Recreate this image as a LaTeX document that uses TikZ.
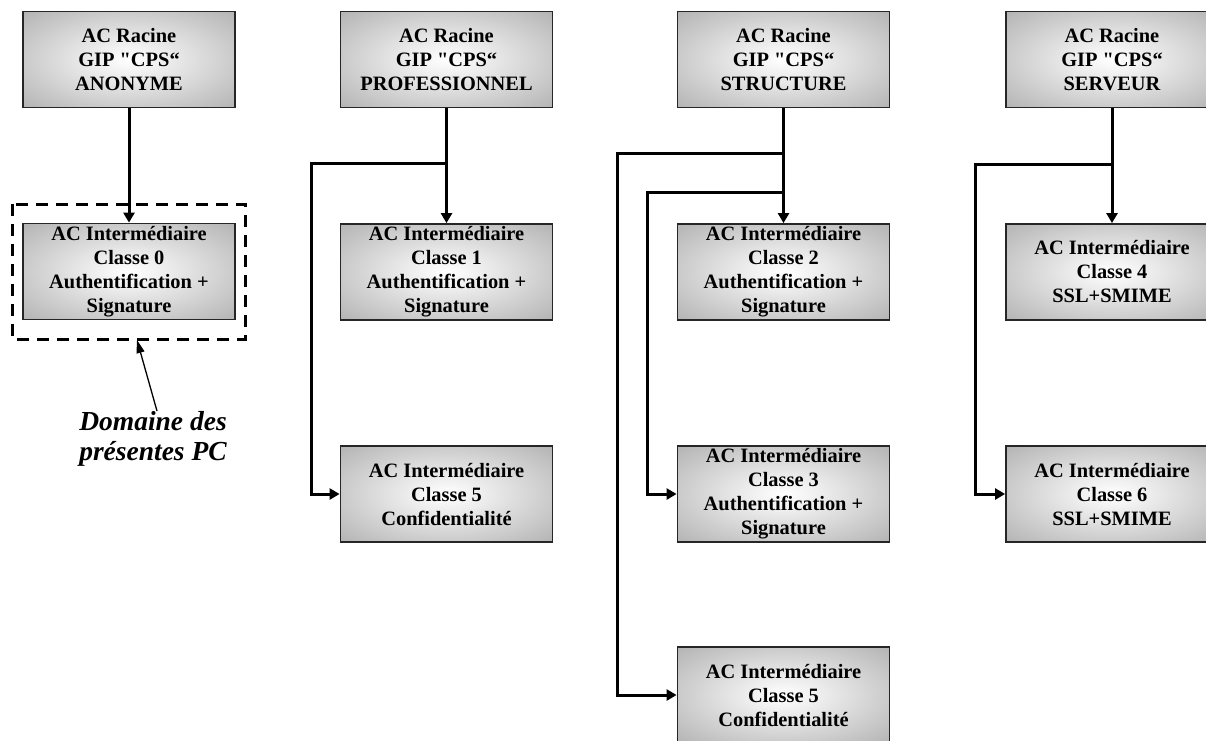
\documentclass[tikz,border=0pt]{standalone}
\usepackage{fontspec}
\setmainfont{Liberation Serif}
\usetikzlibrary{arrows.meta}

\pgfdeclareradialshading{boxglow}{\pgfpoint{0bp}{0bp}}{color(0bp)=(white); color(10bp)=(white!92!black); color(50bp)=(black!42); color(71bp)=(black!58)}

\tikzset{
  acbox/.style={draw=black!85, line width=1.8pt, shading=boxglow,
    minimum width=212pt, minimum height=96pt, inner sep=0pt, align=center,
    font=\bfseries\fontsize{20.4}{24}\selectfont},
  conn/.style={line width=3pt, -{Triangle[length=10pt,width=11pt]}},
}

\begin{document}
\begin{tikzpicture}[x=1pt, y=-1pt]
    \useasboundingbox (0, 0) rectangle (1206, 740);

    \node [acbox] (r0) at (129, 59.5) {AC Racine\\GIP \textquotedbl CPS“\\ANONYME};
    \node [acbox] (r1) at (446.5, 59.5) {AC Racine\\GIP \textquotedbl CPS“\\PROFESSIONNEL};
    \node [acbox] (r2) at (783.5, 59.5) {AC Racine\\GIP \textquotedbl CPS“\\STRUCTURE};
    \node [acbox] (r3) at (1112, 59.5) {AC Racine\\GIP \textquotedbl CPS“\\SERVEUR};

    \node [acbox] (c0) at (129, 271.5) {AC Intermédiaire\\Classe 0\\Authentification +\\Signature};
    \node [acbox] (c1) at (446.5, 272) {AC Intermédiaire\\Classe 1\\Authentification +\\Signature};
    \node [acbox] (c5p) at (446.5, 494) {AC Intermédiaire\\Classe 5\\Confidentialité};
    \node [acbox] (c2) at (783.5, 272) {AC Intermédiaire\\Classe 2\\Authentification +\\Signature};
    \node [acbox] (c3) at (783.5, 494) {AC Intermédiaire\\Classe 3\\Authentification +\\Signature};
    \node [acbox] (c5s) at (783.5, 695) {AC Intermédiaire\\Classe 5\\Confidentialité};
    \node [acbox] (c4) at (1112, 272) {AC Intermédiaire\\Classe 4\\SSL+SMIME};
    \node [acbox] (c6) at (1112, 494) {AC Intermédiaire\\Classe 6\\SSL+SMIME};

    \coordinate (b1) at (311, 163);
    \coordinate (b2a) at (617, 153);
    \coordinate (b2b) at (647, 192);
    \coordinate (b3) at (975, 164);

    \draw [conn] (r0) -- (c0);
    \draw [conn] (r1) -- (c1);
    \draw [conn] (r1.south) |- (b1) |- (c5p.west);
    \draw [conn] (r2) -- (c2);
    \draw [conn] (r2.south) |- (b2a) |- (c5s.west);
    \draw [conn] (r2.south) |- (b2b) |- (c3.west);
    \draw [conn] (r3) -- (c4);
    \draw [conn] (r3.south) |- (b3) |- (c6.west);

    \draw [line width=3pt, dash pattern=on 12pt off 8pt] (12, 204) rectangle (245, 339);
    \coordinate (domtip) at (137, 340);
    \node [align=center, anchor=north, inner sep=0pt,
      font=\bfseries\itshape\fontsize{27.5}{30}\selectfont] (dom) at (153, 411) {Domaine des\\présentes PC};
    \draw [line width=1.3pt, -{Triangle[length=13pt,width=8pt]}] ([xshift=4pt]dom.north) -- (domtip);
\end{tikzpicture}
\end{document}
